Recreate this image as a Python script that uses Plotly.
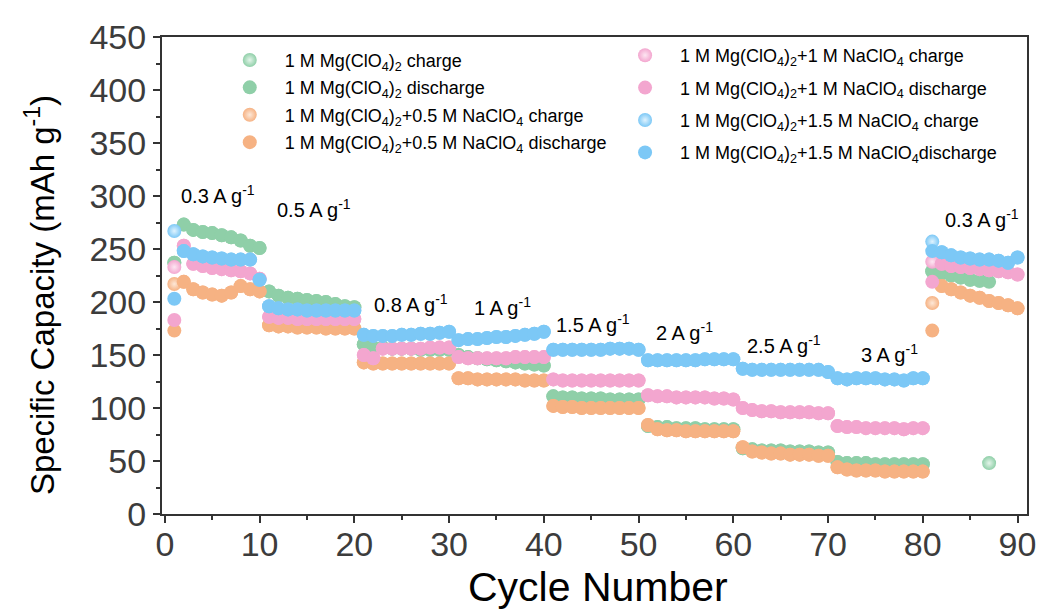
import plotly.graph_objects as go

cycles = list(range(1, 91))
cycles_mg = list(range(1, 88))

mg_charge = [237,
             273, 268, 266, 265, 263, 261, 258, 253, 251,
             210, 206, 204, 203, 202, 201, 200, 198, 196, 195,
             160, 157, 157, 156, 156, 156, 155, 155, 155, 155,
             150, 148, 147, 146, 145, 144, 143, 142, 141, 140,
             111, 110, 110, 109, 109, 109, 108, 108, 108, 108,
             83, 82, 82, 81, 81, 81, 80, 80, 80, 80,
             62, 61, 60, 60, 60, 59, 59, 59, 58, 58,
             49, 48, 48, 48, 47, 47, 47, 47, 47, 47,
             229, 227, 225, 223, 221, 220, 48]
mg_discharge = [237,
                273, 268, 266, 265, 263, 261, 258, 253, 251,
                210, 206, 204, 203, 202, 201, 200, 198, 196, 195,
                160, 157, 157, 156, 156, 156, 155, 155, 155, 155,
                150, 148, 147, 146, 145, 144, 143, 142, 141, 140,
                111, 110, 110, 109, 109, 109, 108, 108, 108, 108,
                83, 82, 82, 81, 81, 81, 80, 80, 80, 80,
                62, 61, 60, 60, 60, 59, 59, 59, 58, 58,
                49, 48, 48, 48, 47, 47, 47, 47, 47, 47,
                229, 227, 225, 223, 221, 220, 219]

na05_charge = [217,
               219, 212, 209, 207, 206, 209, 215, 212, 210,
               178, 177, 177, 176, 176, 176, 175, 175, 175, 175,
               143, 142, 142, 142, 142, 142, 142, 142, 142, 142,
               128, 128, 127, 127, 127, 127, 127, 126, 126, 126,
               102, 101, 101, 100, 100, 100, 100, 100, 100, 100,
               84, 80, 79, 79, 78, 78, 78, 78, 78, 78,
               63, 59, 58, 57, 57, 56, 56, 56, 55, 55,
               44, 42, 41, 41, 41, 40, 40, 40, 40, 40,
               199, 215, 212, 209, 206, 204, 201, 199, 197, 194]
na05_discharge = [173,
                  219, 212, 209, 207, 206, 209, 215, 212, 210,
                  178, 177, 177, 176, 176, 176, 175, 175, 175, 175,
                  143, 142, 142, 142, 142, 142, 142, 142, 142, 142,
                  128, 128, 127, 127, 127, 127, 127, 126, 126, 126,
                  102, 101, 101, 100, 100, 100, 100, 100, 100, 100,
                  84, 80, 79, 79, 78, 78, 78, 78, 78, 78,
                  63, 59, 58, 57, 57, 56, 56, 56, 55, 55,
                  44, 42, 41, 41, 41, 40, 40, 40, 40, 40,
                  173, 215, 212, 209, 206, 204, 201, 199, 197, 194]

na1_charge = [233,
              253, 236, 234, 232, 231, 230, 229, 227, 222,
              186, 185, 185, 184, 184, 184, 184, 184, 184, 184,
              150, 147, 156, 156, 156, 156, 156, 157, 157, 157,
              148, 147, 147, 147, 147, 147, 148, 148, 148, 148,
              127, 126, 126, 126, 126, 126, 126, 126, 126, 126,
              112, 111, 111, 110, 110, 110, 110, 109, 109, 108,
              100, 98, 97, 97, 96, 96, 96, 96, 95, 95,
              83, 82, 82, 81, 81, 81, 81, 80, 81, 81,
              238, 236, 234, 233, 232, 231, 230, 229, 228, 226]
na1_discharge = [183,
                 253, 236, 234, 232, 231, 230, 229, 227, 222,
                 186, 185, 185, 184, 184, 184, 184, 184, 184, 184,
                 150, 147, 156, 156, 156, 156, 156, 157, 157, 157,
                 148, 147, 147, 147, 147, 147, 148, 148, 148, 148,
                 127, 126, 126, 126, 126, 126, 126, 126, 126, 126,
                 112, 111, 111, 110, 110, 110, 110, 109, 109, 108,
                 100, 98, 97, 97, 96, 96, 96, 96, 95, 95,
                 83, 82, 82, 81, 81, 81, 81, 80, 81, 81,
                 219, 236, 234, 233, 232, 231, 230, 229, 228, 226]

na15_charge = [267,
               248, 245, 243, 242, 241, 240, 240, 240, 221,
               196, 194, 193, 193, 192, 192, 192, 192, 192, 192,
               169, 168, 168, 168, 169, 169, 170, 170, 171, 172,
               164, 165, 165, 166, 167, 167, 168, 169, 170, 172,
               155, 155, 155, 155, 155, 155, 156, 156, 156, 155,
               145, 145, 145, 145, 145, 145, 146, 146, 146, 146,
               137, 136, 136, 136, 136, 136, 136, 136, 136, 134,
               128, 127, 128, 128, 128, 127, 127, 126, 128, 128,
               257, 247, 244, 242, 241, 240, 240, 239, 237, 242]
na15_discharge = [203,
                  248, 245, 243, 242, 241, 240, 240, 240, 221,
                  196, 194, 193, 193, 192, 192, 192, 192, 192, 192,
                  169, 168, 168, 168, 169, 169, 170, 170, 171, 172,
                  164, 165, 165, 166, 167, 167, 168, 169, 170, 172,
                  155, 155, 155, 155, 155, 155, 156, 156, 156, 155,
                  145, 145, 145, 145, 145, 145, 146, 146, 146, 146,
                  137, 136, 136, 136, 136, 136, 136, 136, 136, 134,
                  128, 127, 128, 128, 128, 127, 127, 126, 128, 128,
                  248, 247, 244, 242, 241, 240, 240, 239, 237, 242]

rate_labels = ["0.3", "0.5", "0.8", "1", "1.5", "2", "2.5", "3", "0.3"]
rate_x = [5.6, 15.7, 26.0, 35.6, 45.2, 54.8, 65.3, 76.5, 86.3]
rate_y = [301, 288, 199, 196, 180, 172, 160, 151, 279]

MG = "Mg(ClO<sub>4</sub>)<sub>2</sub>"
NA = "NaClO<sub>4</sub>"
series = [
    (cycles_mg, mg_charge, mg_discharge, "#8fcfa8", "#e4f5ea",
     f"1 M {MG} charge", f"1 M {MG} discharge", "legend"),
    (cycles, na05_charge, na05_discharge, "#f6b283", "#fde8d8",
     f"1 M {MG}+0.5 M {NA} charge", f"1 M {MG}+0.5 M {NA} discharge", "legend"),
    (cycles, na1_charge, na1_discharge, "#f3a6cf", "#fde6f2",
     f"1 M {MG}+1 M {NA} charge", f"1 M {MG}+1 M {NA} discharge", "legend2"),
    (cycles, na15_charge, na15_discharge, "#7cc8f6", "#e0f3fe",
     f"1 M {MG}+1.5 M {NA} charge", f"1 M {MG}+1.5 M {NA}discharge", "legend2"),
]

fig = go.Figure()
k = 0
for xs, ch, dis, col, light, nch, ndis, leg in series:
    fig.add_trace(go.Scatter(
        x=xs, y=ch, mode="markers", name=nch, legend=leg, legendgroup=f"g{k}",
        marker=dict(size=14, color=col, line=dict(width=0),
                    gradient=dict(type="radial", color=light))))
    k += 1
    fig.add_trace(go.Scatter(
        x=xs, y=dis, mode="markers", name=ndis, legend=leg, legendgroup=f"g{k}",
        marker=dict(size=14, color=col, line=dict(width=0))))
    k += 1

for lab, xx, yy in zip(rate_labels, rate_x, rate_y):
    fig.add_annotation(x=xx, y=yy, text=f"{lab} A g<sup>-1</sup>", showarrow=False,
                       font=dict(size=20, color="black"))

# axis titles placed as paper annotations
fig.add_annotation(xref="paper", yref="paper", x=-0.141, y=0.459,
                   xanchor="center", yanchor="middle",
                   text="Specific Capacity (mAh g<sup>-1</sup>)", textangle=-90,
                   showarrow=False, font=dict(size=33, color="black"))
fig.add_annotation(xref="paper", yref="paper", x=0.504, y=-0.152,
                   xanchor="center", yanchor="middle",
                   text="Cycle Number", showarrow=False,
                   font=dict(size=41, color="black"))

axis_common = dict(
    showline=True, linewidth=2, linecolor="#333333", mirror=True,
    ticks="outside", ticklen=7, tickwidth=2, tickcolor="#333333",
    showgrid=False, zeroline=False, automargin=False,
    tickfont=dict(size=34, color="#3c3c3c"),
)

fig.update_layout(
    width=1043, height=613,
    margin=dict(l=162, r=16, t=37, b=99),
    paper_bgcolor="white", plot_bgcolor="white",
    font=dict(family="Liberation Sans, Arial, sans-serif", color="black"),
    xaxis=dict(range=[-0.3, 91], dtick=10, tick0=0, ticklabelstandoff=-8,
               minor=dict(ticks="outside", ticklen=4, tickwidth=2, dtick=5, tickcolor="#333333"),
               **axis_common),
    yaxis=dict(range=[0, 450], dtick=50, tick0=0,
               minor=dict(ticks="outside", ticklen=4, tickwidth=2, dtick=25, tickcolor="#333333"),
               **axis_common),
    legend=dict(x=0.061, y=0.99, xanchor="left", yanchor="top",
                bgcolor="rgba(0,0,0,0)", font=dict(size=18, color="black"),
                itemwidth=60, tracegroupgap=1),
    legend2=dict(x=0.518, y=1.0, xanchor="left", yanchor="top",
                 bgcolor="rgba(0,0,0,0)", font=dict(size=18, color="black"),
                 itemwidth=60, tracegroupgap=6),
    showlegend=True,
)

fig.write_html("out.html")
